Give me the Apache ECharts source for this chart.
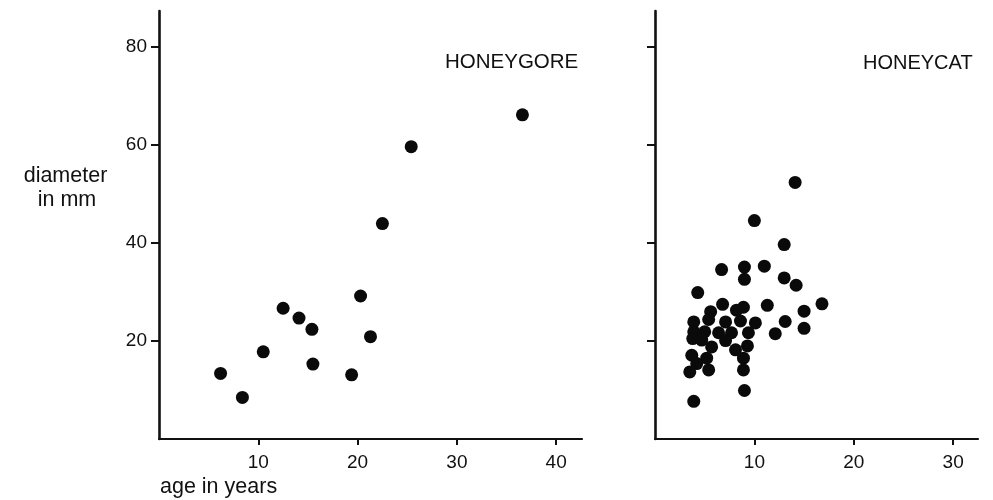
<!DOCTYPE html>
<html>
<head>
<meta charset="utf-8">
<script src="https://cdn.jsdelivr.net/npm/echarts@6/dist/echarts.min.js"></script>
<style>
  html, body { margin: 0; padding: 0; background: #fff; }
  #chart { width: 993px; height: 500px; }
</style>
</head>
<body>
<div id="chart"></div>
<script>
// HONEYGORE: age (years) vs diameter (mm)
const goreAge = [6.2, 8.4, 10.5, 12.5, 14.1, 15.4, 15.5, 19.4, 20.3, 21.3, 22.5, 25.4, 36.6];
const goreDiameter = [13.4, 8.5, 17.8, 26.7, 24.7, 22.4, 15.3, 13.1, 29.2, 20.9, 44.0, 59.7, 66.2];

// HONEYCAT: age (years) vs diameter (mm)
const catAge = [
  14.1, 10.0, 13.0, 6.7, 9.0, 11.0, 9.0, 13.0, 14.2, 4.3, 16.8, 11.3, 15.0, 13.1, 15.0, 12.1, 9.0, 3.9,
  6.8, 8.9, 8.2, 5.6, 5.4, 7.1, 8.6, 10.1, 3.9, 3.9, 3.8, 5.0, 6.4, 7.7, 9.4, 4.7, 7.1, 5.7,
  8.1, 9.3, 3.7, 5.2, 8.9, 4.2, 3.5, 5.4, 8.9
];
const catDiameter = [
  52.4, 44.6, 39.7, 34.6, 35.1, 35.3, 32.6, 32.9, 31.4, 29.9, 27.6, 27.3, 26.1, 24.0, 22.6, 21.5, 9.9, 7.7,
  27.5, 26.9, 26.3, 26.0, 24.4, 23.9, 24.1, 23.7, 23.9, 21.9, 20.5, 21.9, 21.7, 21.7, 21.7, 20.2, 20.1, 18.8,
  18.2, 19.0, 17.1, 16.5, 16.5, 15.4, 13.7, 14.1, 14.1
];

const goreTicksX = [10, 20, 30, 40];
const catTicksX = [10, 20, 30];
const ticksY = [20, 40, 60, 80];

const ink = '#111';
const font = '"Liberation Sans", Arial, Helvetica, sans-serif';

const chart = echarts.init(document.getElementById('chart'), null, {renderer: 'canvas'});

function xAxis(gridIndex, max, ticks) {
  return {
    type: 'value',
    gridIndex: gridIndex,
    min: 0,
    max: max,
    splitLine: {show: false},
    axisLine: {show: true, lineStyle: {color: ink, width: 2.2}},
    axisTick: {show: true, customValues: ticks, length: 6, lineStyle: {color: ink, width: 2}},
    axisLabel: {customValues: ticks, color: ink, fontFamily: font, fontSize: 19, margin: 14}
  };
}

function yAxis(gridIndex, showLabels) {
  return {
    type: 'value',
    gridIndex: gridIndex,
    min: 0,
    max: 87.4,
    splitLine: {show: false},
    axisLine: {show: true, lineStyle: {color: ink, width: 2.6}},
    axisTick: {show: true, customValues: ticksY, length: 8, lineStyle: {color: ink, width: 2}},
    axisLabel: {show: showLabels, customValues: ticksY, color: ink, fontFamily: font, fontSize: 19, margin: 12}
  };
}

const option = {
  backgroundColor: '#fff',
  animation: false,
  grid: [
    {left: 159, top: 11, width: 423, height: 428},
    {left: 655, top: 11, width: 323, height: 428}
  ],
  xAxis: [xAxis(0, 42.6, goreTicksX), xAxis(1, 32.5, catTicksX)],
  yAxis: [yAxis(0, true), yAxis(1, false)],
  series: [
    {
      name: 'HONEYGORE',
      type: 'scatter',
      xAxisIndex: 0,
      yAxisIndex: 0,
      symbolSize: 13,
      itemStyle: {color: '#0a0a0a', opacity: 1},
      data: goreAge.map((a, i) => [a, goreDiameter[i]])
    },
    {
      name: 'HONEYCAT',
      type: 'scatter',
      xAxisIndex: 1,
      yAxisIndex: 1,
      symbolSize: 13,
      itemStyle: {color: '#0a0a0a', opacity: 1},
      data: catAge.map((a, i) => [a, catDiameter[i]])
    }
  ],
  graphic: [
    {type: 'text', x: 445, y: 62, style: {text: 'HONEYGORE', fill: ink, font: '20.5px ' + font, align: 'left', verticalAlign: 'middle'}},
    {type: 'text', x: 863, y: 63, style: {text: 'HONEYCAT', fill: ink, font: '20px ' + font, align: 'left', verticalAlign: 'middle'}},
    {type: 'text', x: 65.5, y: 176, style: {text: 'diameter', fill: ink, font: '21.5px ' + font, align: 'center', verticalAlign: 'middle'}},
    {type: 'text', x: 67, y: 200, style: {text: 'in mm', fill: ink, font: '21.5px ' + font, align: 'center', verticalAlign: 'middle'}},
    {type: 'text', x: 160, y: 487, style: {text: 'age in years', fill: ink, font: '21.5px ' + font, align: 'left', verticalAlign: 'middle'}}
  ]
};

chart.setOption(option);
</script>
</body>
</html>
